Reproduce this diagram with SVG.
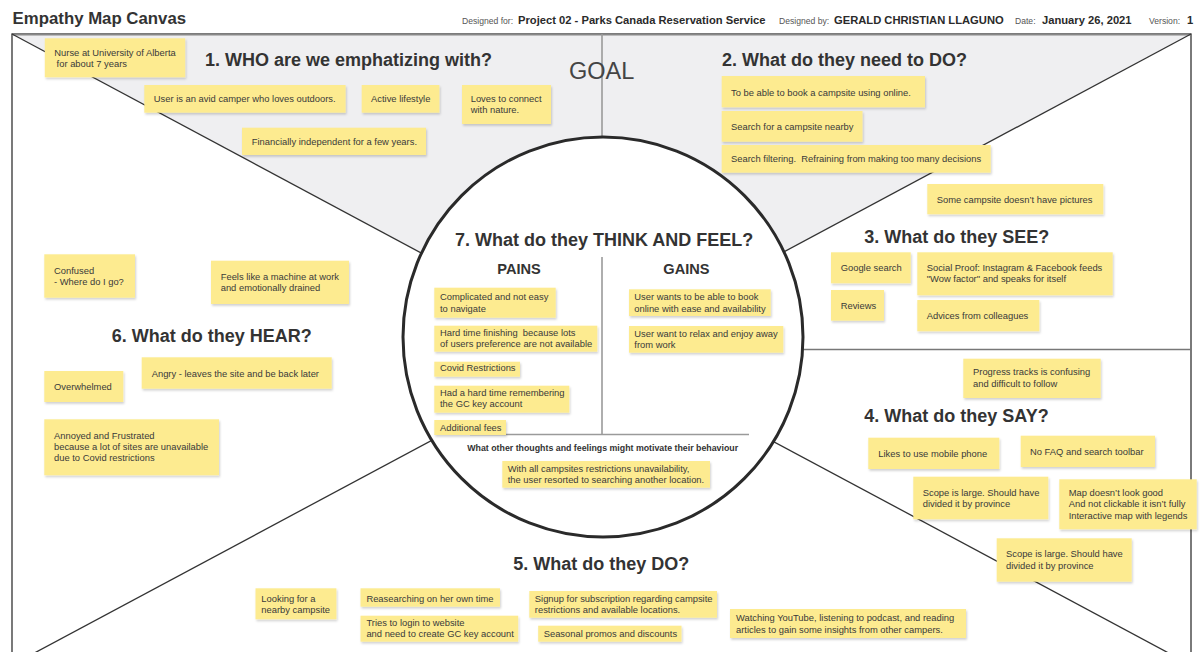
<svg xmlns="http://www.w3.org/2000/svg" width="1204" height="652" viewBox="0 0 1204 652">
<defs>
<filter id="sh" x="-10%" y="-25%" width="125%" height="170%">
<feDropShadow dx="1" dy="1.8" stdDeviation="1.3" flood-color="#000" flood-opacity="0.18"/>
</filter>
<style>
.note rect{fill:#fdeb90;filter:url(#sh)}
.note text{font-family:"Liberation Sans",Arial,sans-serif;font-size:9.4px;fill:#3a3a3a}
.ttl{font-family:"Liberation Sans",Arial,sans-serif;font-size:18px;font-weight:bold;fill:#333}
.sub{font-family:"Liberation Sans",Arial,sans-serif;font-size:14.6px;font-weight:bold;fill:#333}
.hl{font-family:"Liberation Sans",Arial,sans-serif;font-size:8.6px;fill:#555}
.hv{font-family:"Liberation Sans",Arial,sans-serif;font-size:11.2px;font-weight:bold;fill:#2a2a2a}
.frame{stroke:#333;stroke-width:1.3;fill:none}
.grey{stroke:#9a9a9a;stroke-width:1.6;fill:none}
</style>
</defs>
<rect x="0" y="0" width="1204" height="652" fill="#ffffff"/>
<g id="header">
<text x="12.6" y="24" font-family="Liberation Sans,Arial,sans-serif" font-size="16.8" font-weight="bold" fill="#333">Empathy Map Canvas</text>
<text class="hl" x="462" y="24">Designed for:</text>
<text class="hv" x="518" y="24">Project 02 - Parks Canada Reservation Service</text>
<text class="hl" x="779" y="24">Designed by:</text>
<text class="hv" x="834" y="24">GERALD CHRISTIAN LLAGUNO</text>
<text class="hl" x="1015" y="24">Date:</text>
<text class="hv" x="1042" y="24">January 26, 2021</text>
<text class="hl" x="1149" y="24">Version:</text>
<text class="hv" x="1187" y="24">1</text>
</g>
<g id="connectors">
<polygon points="12,34 1191,34 601.5,349.5" fill="#efeff1"/>
<rect x="12" y="34" width="1179" height="631" fill="none" stroke="#333" stroke-width="1.3"/>
<line x1="12" y1="34.6" x2="1191" y2="34.6" stroke="#888" stroke-width="1.8"/>
<line class="frame" x1="12" y1="34" x2="601.5" y2="349.5"/>
<line class="frame" x1="1191" y1="34" x2="601.5" y2="349.5"/>
<line class="frame" x1="12" y1="665" x2="601.5" y2="349.5"/>
<line class="frame" x1="1191" y1="665" x2="601.5" y2="349.5"/>
<line x1="780" y1="349.5" x2="1191" y2="349.5" stroke="#777" stroke-width="1.3"/>
<line class="grey" x1="602" y1="34" x2="602" y2="140"/>
<circle cx="603" cy="337" r="200" fill="#ffffff" stroke="#2a2a2a" stroke-width="3"/>
<line class="grey" x1="602" y1="257" x2="602" y2="434.5"/>
<line class="grey" x1="470" y1="434.5" x2="749" y2="434.5"/>
</g>
<g id="titles">
<text class="ttl" x="205" y="66.4">1. WHO are we emphatizing with?</text>
<text x="569" y="79" font-family="Liberation Sans,Arial,sans-serif" font-size="23.5" fill="#444">GOAL</text>
<text class="ttl" x="722" y="66.4">2. What do they need to DO?</text>
<text class="ttl" x="864.3" y="243">3. What do they SEE?</text>
<text class="ttl" x="864.3" y="422.4">4. What do they SAY?</text>
<text class="ttl" x="513.3" y="569.7">5. What do they DO?</text>
<text class="ttl" x="111.7" y="342.4">6. What do they HEAR?</text>
<text class="ttl" x="455" y="246.4">7. What do they THINK AND FEEL?</text>
<text class="sub" x="497.3" y="273.5">PAINS</text>
<text class="sub" x="663.3" y="273.5">GAINS</text>
<text x="467.3" y="450.8" font-family="Liberation Sans,Arial,sans-serif" font-size="8.8" font-weight="bold" fill="#333">What other thoughts and feelings might motivate their behaviour</text>
</g>
<g id="n1" class="note"><rect x="44.8" y="38.3" width="140.4" height="39"/><text x="54.3" y="55.7">Nurse at University of Alberta</text><text x="56.6" y="66.8">for about 7 years</text></g>
<g id="n2" class="note"><rect x="144.3" y="85" width="201.3" height="27.7"/><text x="153.8" y="102">User is an avid camper who loves outdoors.</text></g>
<g id="n3" class="note"><rect x="361.7" y="85" width="77.7" height="27.7"/><text x="371" y="102">Active lifestyle</text></g>
<g id="n4" class="note"><rect x="462" y="85" width="89" height="39"/><text x="470.7" y="102">Loves to connect</text><text x="470.7" y="113.3">with nature.</text></g>
<g id="n5" class="note"><rect x="242" y="127.7" width="184" height="27.3"/><text x="251.8" y="145">Financially independent for a few years.</text></g>
<g id="n6" class="note"><rect x="721.7" y="76" width="203.3" height="31.3"/><text x="731" y="95.6">To be able to book a campsite using online.</text></g>
<g id="n7" class="note"><rect x="721.7" y="111" width="140.8" height="30.7"/><text x="731" y="130.3">Search for a campsite nearby</text></g>
<g id="n8" class="note"><rect x="721.7" y="145" width="269" height="27.7"/><text x="731" y="162">Search filtering.&#160; Refraining from making too many decisions</text></g>
<g id="n9" class="note"><rect x="927.3" y="184" width="176" height="30.3"/><text x="936.7" y="202.6">Some campsite doesn’t have pictures</text></g>
<g id="n10" class="note"><rect x="831" y="252.3" width="79.7" height="31"/><text x="840.7" y="271">Google search</text></g>
<g id="n11" class="note"><rect x="917.3" y="252.3" width="195.4" height="43"/><text x="926.7" y="271">Social Proof: Instagram &amp; Facebook feeds</text><text x="926.7" y="282.3">"Wow factor" and speaks for itself</text></g>
<g id="n12" class="note"><rect x="831" y="290" width="53" height="30.7"/><text x="840.7" y="308.6">Reviews</text></g>
<g id="n13" class="note"><rect x="917.3" y="300" width="122" height="31.3"/><text x="926.7" y="319.3">Advices from colleagues</text></g>
<g id="n14" class="note"><rect x="963.3" y="358.7" width="137.4" height="39.3"/><text x="973" y="375.3">Progress tracks is confusing</text><text x="973" y="386.6">and difficult to follow</text></g>
<g id="n15" class="note"><rect x="868.3" y="437.7" width="131" height="31.3"/><text x="878.3" y="456.6">Likes to use mobile phone</text></g>
<g id="n16" class="note"><rect x="1020.7" y="435.7" width="134.3" height="31.3"/><text x="1030" y="455">No FAQ and search toolbar</text></g>
<g id="n17" class="note"><rect x="913.3" y="476.7" width="135" height="42.6"/><text x="922.7" y="495.6">Scope is large. Should have</text><text x="922.7" y="507">divided it by province</text></g>
<g id="n18" class="note"><rect x="1059.3" y="479.3" width="137.4" height="50"/><text x="1068.7" y="495.6">Map doesn’t look good</text><text x="1068.7" y="507">And not clickable it isn’t fully</text><text x="1068.7" y="518.6">Interactive map with legends</text></g>
<g id="n19" class="note"><rect x="996.7" y="538.3" width="135" height="43.4"/><text x="1006" y="557.3">Scope is large. Should have</text><text x="1006" y="568.6">divided it by province</text></g>
<g id="n20" class="note"><rect x="434.3" y="287.7" width="121.4" height="30"/><text x="440" y="300.3">Complicated and not easy</text><text x="440" y="311.6">to navigate</text></g>
<g id="n21" class="note"><rect x="434.3" y="325.7" width="163" height="26"/><text x="440" y="336">Hard time finishing&#160; because lots</text><text x="440" y="347.3">of users preference are not available</text></g>
<g id="n22" class="note"><rect x="434.3" y="361.7" width="85.7" height="15"/><text x="440" y="371.3">Covid Restrictions</text></g>
<g id="n23" class="note"><rect x="434.3" y="385.7" width="135" height="27"/><text x="440" y="396.3">Had a hard time remembering</text><text x="440" y="407.3">the GC key account</text></g>
<g id="n24" class="note"><rect x="434.3" y="420" width="71.7" height="15"/><text x="440" y="430.6">Additional fees</text></g>
<g id="n25" class="note"><rect x="629" y="289.3" width="141.7" height="26.7"/><text x="634.3" y="300.3">User wants to be able to book</text><text x="634.3" y="311.6">online with ease and availability</text></g>
<g id="n26" class="note"><rect x="629" y="326" width="154.3" height="26.7"/><text x="634.3" y="337">User want to relax and enjoy away</text><text x="634.3" y="348">from work</text></g>
<g id="n27" class="note"><rect x="502.3" y="461" width="207.7" height="26.7"/><text x="507.7" y="472">With all campsites restrictions unavailability,</text><text x="507.7" y="483.3">the user resorted to searching another location.</text></g>
<g id="n28" class="note"><rect x="44.3" y="254.3" width="90.7" height="43.4"/><text x="54" y="274">Confused</text><text x="54" y="285.3">- Where do I go?</text></g>
<g id="n29" class="note"><rect x="211" y="260.7" width="138" height="43.3"/><text x="220.7" y="280">Feels like a machine at work</text><text x="220.7" y="291.3">and emotionally drained</text></g>
<g id="n30" class="note"><rect x="141.7" y="357.3" width="190" height="31.4"/><text x="151.7" y="376.6">Angry - leaves the site and be back later</text></g>
<g id="n31" class="note"><rect x="44.3" y="371" width="79" height="31"/><text x="54" y="390.3">Overwhelmed</text></g>
<g id="n32" class="note"><rect x="44.3" y="419.3" width="174.7" height="56"/><text x="54" y="438.6">Annoyed and Frustrated</text><text x="54" y="450">because a lot of sites are unavailable</text><text x="54" y="461.3">due to Covid restrictions</text></g>
<g id="n33" class="note"><rect x="255.5" y="588.3" width="80.9" height="31"/><text x="261.3" y="601.6">Looking for a</text><text x="261.3" y="613">nearby campsite</text></g>
<g id="n34" class="note"><rect x="360.5" y="588.3" width="139.5" height="18.4"/><text x="366.4" y="601.6">Reasearching on her own time</text></g>
<g id="n35" class="note"><rect x="360.5" y="615.7" width="157.7" height="26"/><text x="366.4" y="625.6">Tries to login to website</text><text x="366.4" y="637">and need to create GC key account</text></g>
<g id="n36" class="note"><rect x="529.3" y="591" width="187.7" height="26.7"/><text x="534.8" y="601.6">Signup for subscription regarding campsite</text><text x="534.8" y="613">restrictions and available locations.</text></g>
<g id="n37" class="note"><rect x="538.2" y="625.7" width="143.3" height="16"/><text x="543.7" y="636.6">Seasonal promos and discounts</text></g>
<g id="n38" class="note"><rect x="730" y="609" width="236" height="29"/><text x="736" y="621.3">Watching YouTube, listening to podcast, and reading</text><text x="736" y="632.6">articles to gain some insights from other campers.</text></g>
</svg>
